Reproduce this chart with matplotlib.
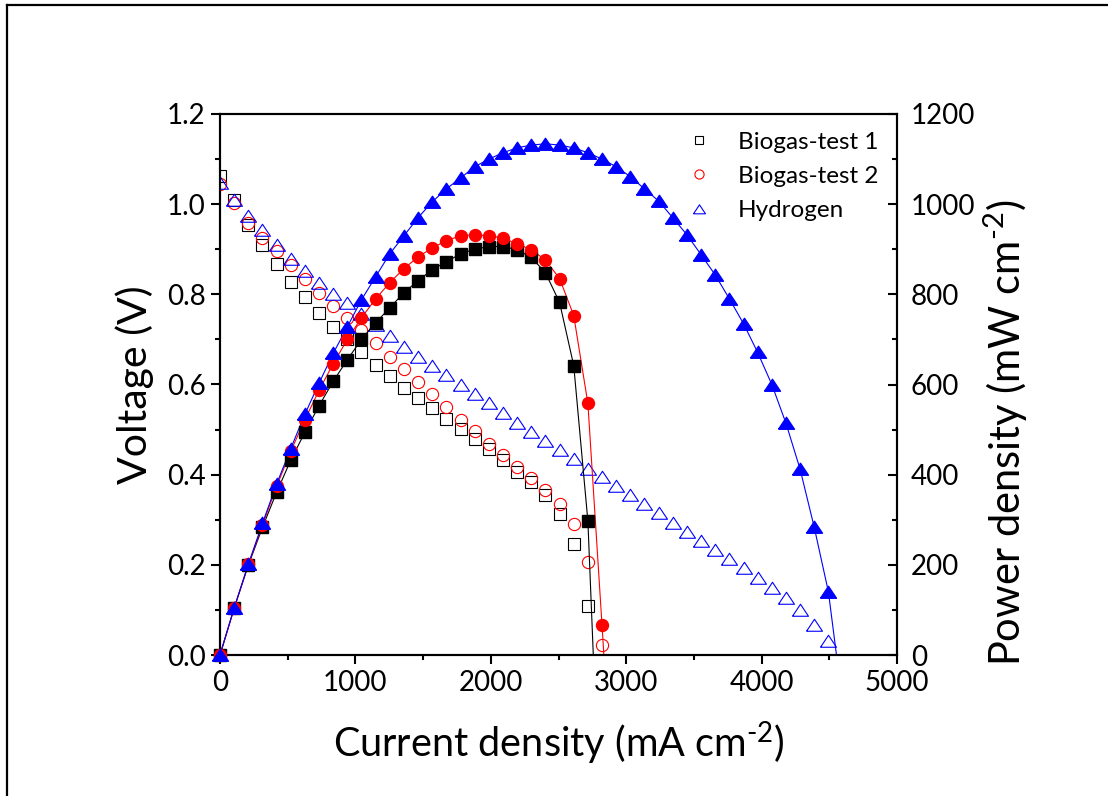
import numpy as np
import matplotlib
matplotlib.use("Agg")
import matplotlib.pyplot as plt
from matplotlib.lines import Line2D

plt.rcParams['font.family'] = ['Lato', 'DejaVu Sans']
plt.rcParams['mathtext.fontset'] = 'custom'
plt.rcParams['mathtext.rm'] = 'Lato'
plt.rcParams['mathtext.default'] = 'regular'

step = 104.5  # current step (mA cm-2) between measurement points

# ---- Biogas-test 1 ----
b1_cd = np.arange(27) * step
b1_v = [1.063, 1.010, 0.954, 0.910, 0.868, 0.828, 0.793, 0.759, 0.728, 0.700,
        0.671, 0.644, 0.618, 0.593, 0.571, 0.547, 0.523, 0.502, 0.480, 0.456,
        0.432, 0.407, 0.383, 0.354, 0.312, 0.246, 0.108]
b1_p = [0, 104, 199, 283, 361, 432, 494, 553, 607, 655,
        700, 737, 770, 804, 830, 855, 872, 890, 900, 906,
        906, 899, 882, 848, 782, 642, 297]
b1_end = 2757

# ---- Biogas-test 2 ----
b2_cd = np.arange(28) * step
b2_v = [1.045, 1.003, 0.958, 0.925, 0.897, 0.866, 0.835, 0.804, 0.775, 0.748,
        0.720, 0.691, 0.662, 0.635, 0.606, 0.578, 0.551, 0.522, 0.496, 0.469,
        0.443, 0.416, 0.392, 0.365, 0.334, 0.290, 0.206, 0.022]
b2_p = [0, 104, 201, 288, 374, 452, 522, 587, 646, 700,
        748, 790, 826, 857, 883, 903, 919, 930, 932, 930,
        925, 912, 899, 876, 835, 753, 558, 66]
b2_end = 2835

# ---- Hydrogen ----
h2_cd = np.arange(44) * step
h2_v = [1.047, 1.010, 0.974, 0.943, 0.910, 0.879, 0.852, 0.826, 0.801, 0.781,
        0.757, 0.731, 0.708, 0.684, 0.662, 0.640, 0.620, 0.598, 0.578, 0.558,
        0.536, 0.514, 0.494, 0.474, 0.454, 0.434, 0.412, 0.394, 0.374, 0.354,
        0.334, 0.314, 0.292, 0.272, 0.252, 0.232, 0.212, 0.193, 0.170, 0.148,
        0.126, 0.100, 0.066, 0.031]
h2_p = [0, 104, 201, 292, 379, 458, 534, 603, 669, 728,
        788, 839, 890, 930, 970, 1005, 1034, 1058, 1083, 1100,
        1114, 1125, 1131, 1134, 1131, 1125, 1114, 1100, 1083, 1061,
        1034, 1007, 970, 932, 888, 843, 790, 735, 671, 600,
        514, 412, 283, 140]
h2_end = 4553

labels = ['Biogas-test 1', 'Biogas-test 2', 'Hydrogen']
colors = ['black', 'red', 'blue']

W, H = 1108, 796
fig = plt.figure(figsize=(W / 100, H / 100), dpi=100)
ax = fig.add_axes([220 / W, 1 - 655 / H, (897 - 220) / W, (655 - 114) / H])
ax2 = ax.twinx()

tri = [(-1, -0.72), (1, -0.72), (0, 0.78), (-1, -0.72)]

# voltage (open markers)
ax.plot(b1_cd, b1_v, ls='none', marker='s', ms=8.2, mfc='none', mec='black', mew=0.8, label=labels[0])
ax.plot(b2_cd, b2_v, ls='none', marker='o', ms=8.8, mfc='none', mec='red', mew=0.8, label=labels[1])
ax.plot(h2_cd, h2_v, ls='none', marker=tri, ms=11.5, mfc='none', mec='blue', mew=0.8, label=labels[2])

# power (filled markers with connecting lines)
for cd, p, end, c, m, ms in [(b1_cd, b1_p, b1_end, 'black', 's', 8.2),
                             (b2_cd, b2_p, b2_end, 'red', 'o', 8.6),
                             (h2_cd, h2_p, h2_end, 'blue', tri, 11.5)]:
    xs = list(cd) + [end]
    ys = list(p) + [0]
    ax2.plot(xs, ys, color=c, lw=0.8, zorder=2)
    ax2.plot(cd, p, ls='none', marker=m, ms=ms, color=c, mec=c, zorder=3, clip_on=False)

ax.set_xlim(0, 5000)
ax.set_ylim(0, 1.2)
ax2.set_ylim(0, 1200)

ax.set_xticks(np.arange(0, 5001, 1000))
ax.set_xticks(np.arange(0, 5001, 500), minor=True)
ax.set_yticks(np.arange(0, 1.21, 0.2))
ax.set_yticks(np.arange(0, 1.21, 0.1), minor=True)
ax.set_yticklabels([f'{v:.1f}' for v in np.arange(0, 1.21, 0.2)])
ax2.set_yticks(np.arange(0, 1201, 200))
ax2.set_yticks(np.arange(0, 1201, 100), minor=True)

for a in (ax, ax2):
    for s in a.spines.values():
        s.set_linewidth(1.5)

ax.tick_params(axis='both', which='major', direction='out', length=6.5, width=1.5,
               labelsize=20, top=False, right=False, pad=4)
ax.tick_params(axis='both', which='minor', direction='out', length=3.5, width=1.5,
               top=False, right=False)
ax2.tick_params(axis='y', which='major', direction='in', length=6.5, width=1.5,
                labelsize=20, pad=10)
ax2.tick_params(axis='y', which='minor', direction='in', length=3.5, width=1.5)

ax.set_xlabel('Current density (mA cm$^{\\text{-2}}$)', fontsize=28.5, labelpad=17)
ax.set_ylabel('Voltage (V)', fontsize=29.5, labelpad=9)
ax2.set_ylabel('Power density (mW cm$^{\\text{-2}}$)', fontsize=30)
ax2.yaxis.set_label_coords(1.126, (655 - 433) / 541)

leg = ax.legend(loc='upper right', bbox_to_anchor=(1.005, 1.008), frameon=False,
                fontsize=17.5, handletextpad=1.1, labelspacing=0.55,
                markerscale=0.75, handlelength=1.0)

# partial frame around figure
fig.add_artist(Line2D([7 / W, 7 / W], [0, 1 - 5 / H], color='black', lw=1.6, transform=fig.transFigure))
fig.add_artist(Line2D([7 / W, 1], [1 - 5 / H, 1 - 5 / H], color='black', lw=1.6, transform=fig.transFigure))

fig.savefig('out.png', dpi=100)
